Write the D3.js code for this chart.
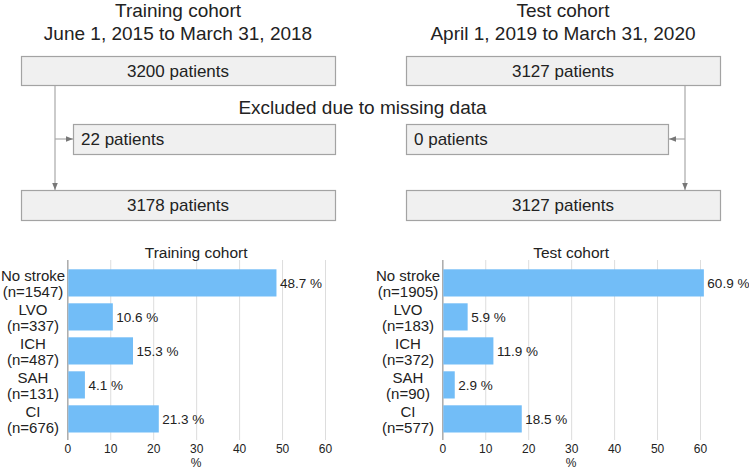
<!DOCTYPE html>
<html><head><meta charset="utf-8">
<script src="https://cdn.jsdelivr.net/npm/d3@7"></script>
<style>body{margin:0;background:#fff}svg{display:block}text{font-family:"Liberation Sans",Arial,sans-serif;fill:#222}</style>
</head><body>
<svg id="c" width="749" height="468"></svg>
<script>
const categories = ["No stroke","LVO","ICH","SAH","CI"];
const trainingCounts = [1547,337,487,131,676];
const trainingPct = [48.7,10.6,15.3,4.1,21.3];
const testCounts = [1905,183,372,90,577];
const testPct = [60.9,5.9,11.9,2.9,18.5];
const xTicks = [0,10,20,30,40,50,60];
const cohortTitles = [["Training cohort","June 1, 2015 to March 31, 2018"],["Test cohort","April 1, 2019 to March 31, 2020"]];
const flowCounts = [[3200,22,3178],[3127,0,3127]];
const excludedLabel = "Excluded due to missing data";

const svg = d3.select("#c");
const defs = svg.append("defs");
defs.append("marker").attr("id","arr").attr("viewBox","0 0 10 10").attr("refX",10).attr("refY",5)
  .attr("markerWidth",6).attr("markerHeight",6).attr("orient","auto-start-reverse")
  .append("path").attr("d","M0,1L10,5L0,9Z").attr("fill","#777");

// flowchart
const boxFill="#f0f0f0", boxStroke="#a3a3a3", lineC="#a8a8a8";
function box(x,y,w,h,label,align){
  svg.append("rect").attr("x",x+0.5).attr("y",y+0.5).attr("width",w).attr("height",h)
    .attr("fill",boxFill).attr("stroke",boxStroke).attr("stroke-width",1.2);
  svg.append("text").attr("x",align==="start"?x+8:x+w/2).attr("y",y+h/2).attr("dy","0.36em")
    .attr("text-anchor",align||"middle").attr("font-size",17).text(label);
}
const flows=[{left:21,w:314,exX:73,exW:262,line:55,side:"left",cx:178},
             {left:406,w:314,exX:406,exW:262,line:685,side:"right",cx:563}];
flows.forEach((f,i)=>{
  const t=svg.append("text").attr("text-anchor","middle").attr("font-size",19);
  t.append("tspan").attr("x",f.cx).attr("y",17).text(cohortTitles[i][0]);
  t.append("tspan").attr("x",f.cx).attr("y",39.5).text(cohortTitles[i][1]);
  svg.append("line").attr("x1",f.line).attr("x2",f.line).attr("y1",86).attr("y2",190)
    .attr("stroke",lineC).attr("stroke-width",1.2).attr("marker-end","url(#arr)");
  const ey=139;
  const x2 = f.side==="left" ? f.exX : f.exX+f.exW+1;
  svg.append("line").attr("x1",f.line).attr("x2",x2).attr("y1",ey).attr("y2",ey)
    .attr("stroke",lineC).attr("stroke-width",1.2).attr("marker-end","url(#arr)");
  box(f.left,56,f.w,29,flowCounts[i][0]+" patients");
  box(f.exX,124,f.exW,30,flowCounts[i][1]+" patients","start");
  box(f.left,190,f.w,30,flowCounts[i][2]+" patients");
});
svg.append("text").attr("x",362.5).attr("y",113.5).attr("text-anchor","middle").attr("font-size",19).text(excludedLabel);

// bar charts
function barChart(ox,title,counts,pct){
  const g=svg.append("g").attr("transform",`translate(${ox},0)`);
  const x=d3.scaleLinear().domain([0,60]).range([67.3,325]);
  const y=d3.scaleBand().domain(categories).range([262.5,439.3]).paddingInner(0.2).paddingOuter(0.2);
  const grid=g.append("g").attr("transform","translate(0,440)")
    .call(d3.axisBottom(x).tickValues(xTicks).tickSize(-180).tickFormat(d3.format("d")).tickPadding(4));
  grid.select(".domain").remove();
  grid.selectAll(".tick line").attr("stroke",d=>d===0?"#aaa":"#ddd").attr("stroke-width",d=>d===0?1.5:1);
  grid.selectAll(".tick text").attr("font-size",12).attr("fill","#222").attr("font-family","Liberation Sans, Arial, sans-serif");
  g.append("text").attr("x",(x(0)+x(60))/2).attr("y",466.5).attr("text-anchor","middle").attr("font-size",12).text("%");
  g.append("text").attr("x",(x(0)+x(60))/2).attr("y",258).attr("text-anchor","middle").attr("font-size",15.5).text(title);
  g.selectAll("rect.bar").data(categories).join("rect").attr("class","bar")
    .attr("x",x(0)+1).attr("y",d=>y(d)).attr("height",y.bandwidth())
    .attr("width",(d,i)=>x(pct[i])-x(0)-1).attr("fill","#72bdf7");
  g.selectAll("text.val").data(categories).join("text").attr("class","val")
    .attr("x",(d,i)=>x(pct[i])+3.5).attr("y",d=>y(d)+y.bandwidth()/2).attr("dy","0.36em")
    .attr("font-size",13.5).text((d,i)=>pct[i].toFixed(1)+" %");
  g.selectAll("text.cat").data(categories).join("text").attr("class","cat")
    .attr("text-anchor","middle").attr("font-size",15)
    .each(function(d,i){
      const t=d3.select(this); const cy=y(d)+y.bandwidth()/2;
      t.append("tspan").attr("x",33).attr("y",cy-2).text(d);
      t.append("tspan").attr("x",33).attr("y",cy+14.5).text("(n="+counts[i]+")");
    });
}
barChart(0,"Training cohort",trainingCounts,trainingPct);
barChart(375,"Test cohort",testCounts,testPct);
</script></body></html>
